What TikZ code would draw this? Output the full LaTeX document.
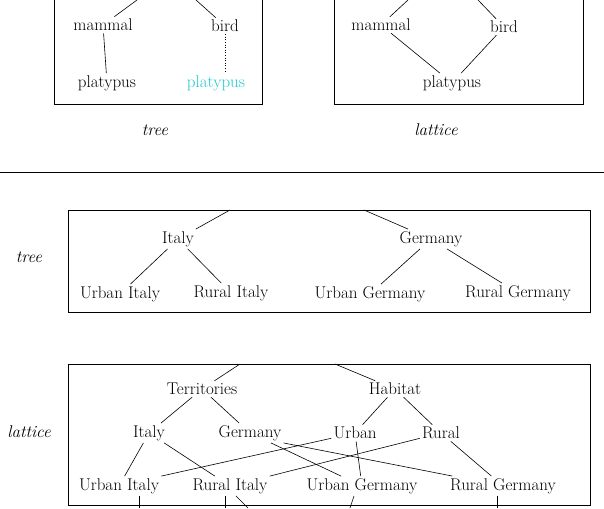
\documentclass[tikz,border=0pt]{standalone}
\begin{document}
\begin{tikzpicture}[x=1pt,y=-1pt,
  lbl/.style={font=\fontsize{17}{20}\selectfont, inner sep=2pt},
  it/.style={font=\fontsize{17}{20}\selectfont\itshape},
  box/.style={draw, line width=0.6pt},
  every path/.style={line width=0.6pt}]
\useasboundingbox (0,0) rectangle (604,508);
\definecolor{cy}{RGB}{30,200,210}
% top tree
\draw[box] (54,-2) rectangle (262,104);
\node[lbl] (m1) at (103,25) {mammal};
\node[lbl] (b1) at (225,26) {bird};
\node[lbl] (p1) at (107,83) {platypus};
\node[lbl,text=cy] (p2) at (216,83) {platypus};
\coordinate (t1a) at (137,0); \coordinate (t1b) at (196,0);
\draw (t1a) -- (m1); \draw (t1b) -- (b1);
\draw (m1) -- (p1); \draw[dotted] (b1) -- (b1|-p2.north);
\node[it] (tr1) at (155,130) {tree};
% top lattice
\draw[box] (334,-2) rectangle (583,104);
\node[lbl] (m2) at (381,25) {mammal};
\node[lbl] (b2) at (504,27) {bird};
\node[lbl] (p3) at (452,83) {platypus};
\coordinate (t2a) at (408,0); \coordinate (t2b) at (478,0);
\draw (t2a) -- (m2); \draw (t2b) -- (b2);
\draw (m2) -- (p3); \draw (b2) -- (p3);
\node[it] (la1) at (436,130) {lattice};
% rule
\coordinate (r1) at (0,172); \coordinate (r2) at (604,172);
\draw (r1) -- (r2);
% bottom tree
\node[it] (tr2) at (29,257) {tree};
\draw[box] (68,210) rectangle (590,312);
\node[lbl] (it1) at (178,239) {Italy};
\node[lbl] (ge1) at (431,239) {Germany};
\node[lbl] (ui1) at (120,294) {Urban Italy};
\node[lbl] (ri1) at (231,293) {Rural Italy};
\node[lbl] (ug1) at (370,294) {Urban Germany};
\node[lbl] (rg1) at (518,293) {Rural Germany};
\coordinate (t3a) at (230,210); \coordinate (t3b) at (364,210);
\draw (t3a) -- (it1); \draw (t3b) -- (ge1);
\draw (it1) -- (ui1); \draw (it1) -- (ri1);
\draw (ge1) -- (ug1); \draw (ge1) -- (rg1);
% bottom lattice
\node[it] (la2) at (29,432) {lattice};
\draw[box] (68,364) rectangle (590,505);
\node[lbl] (te) at (202,389) {Territories};
\node[lbl] (ha) at (395,389) {Habitat};
\node[lbl] (it2) at (149,433) {Italy};
\node[lbl] (ge2) at (250,433) {Germany};
\node[lbl] (ur) at (355,433) {Urban};
\node[lbl] (ru) at (441,433) {Rural};
\node[lbl] (ui2) at (119,486) {Urban Italy};
\node[lbl] (ri2) at (230,486) {Rural Italy};
\node[lbl] (ug2) at (362,486) {Urban Germany};
\node[lbl] (rg2) at (503,486) {Rural Germany};
\coordinate (t4a) at (240,364); \coordinate (t4b) at (335,364);
\draw (t4a) -- (te); \draw (t4b) -- (ha);
\draw (te) -- (it2); \draw (te) -- (ge2);
\draw (ha) -- (ur); \draw (ha) -- (ru);
\draw (it2) -- (ui2); \draw (it2) -- (ri2);
\draw (ge2) -- (ug2); \draw (ge2.south east) -- (rg2);
\draw (ur) -- (ui2.north east); \draw (ur) -- (ug2);
\draw (ru) -- (ri2.north east); \draw (ru) -- (rg2);
\coordinate (d1) at (139,508); \coordinate (d2) at (225,508);
\coordinate (d3) at (248,508); \coordinate (d4) at (350,508);
\coordinate (d5) at (497,508);
\draw (ui2.south -| d1) -- (d1); \draw (ri2.south -| d2) -- (d2);
\draw (ri2.south) ++(6,0) -- (d3);
\draw (ug2.south) ++(-8,0) -- (d4); \draw (rg2.south -| d5) -- (d5);
\end{tikzpicture}
\end{document}
